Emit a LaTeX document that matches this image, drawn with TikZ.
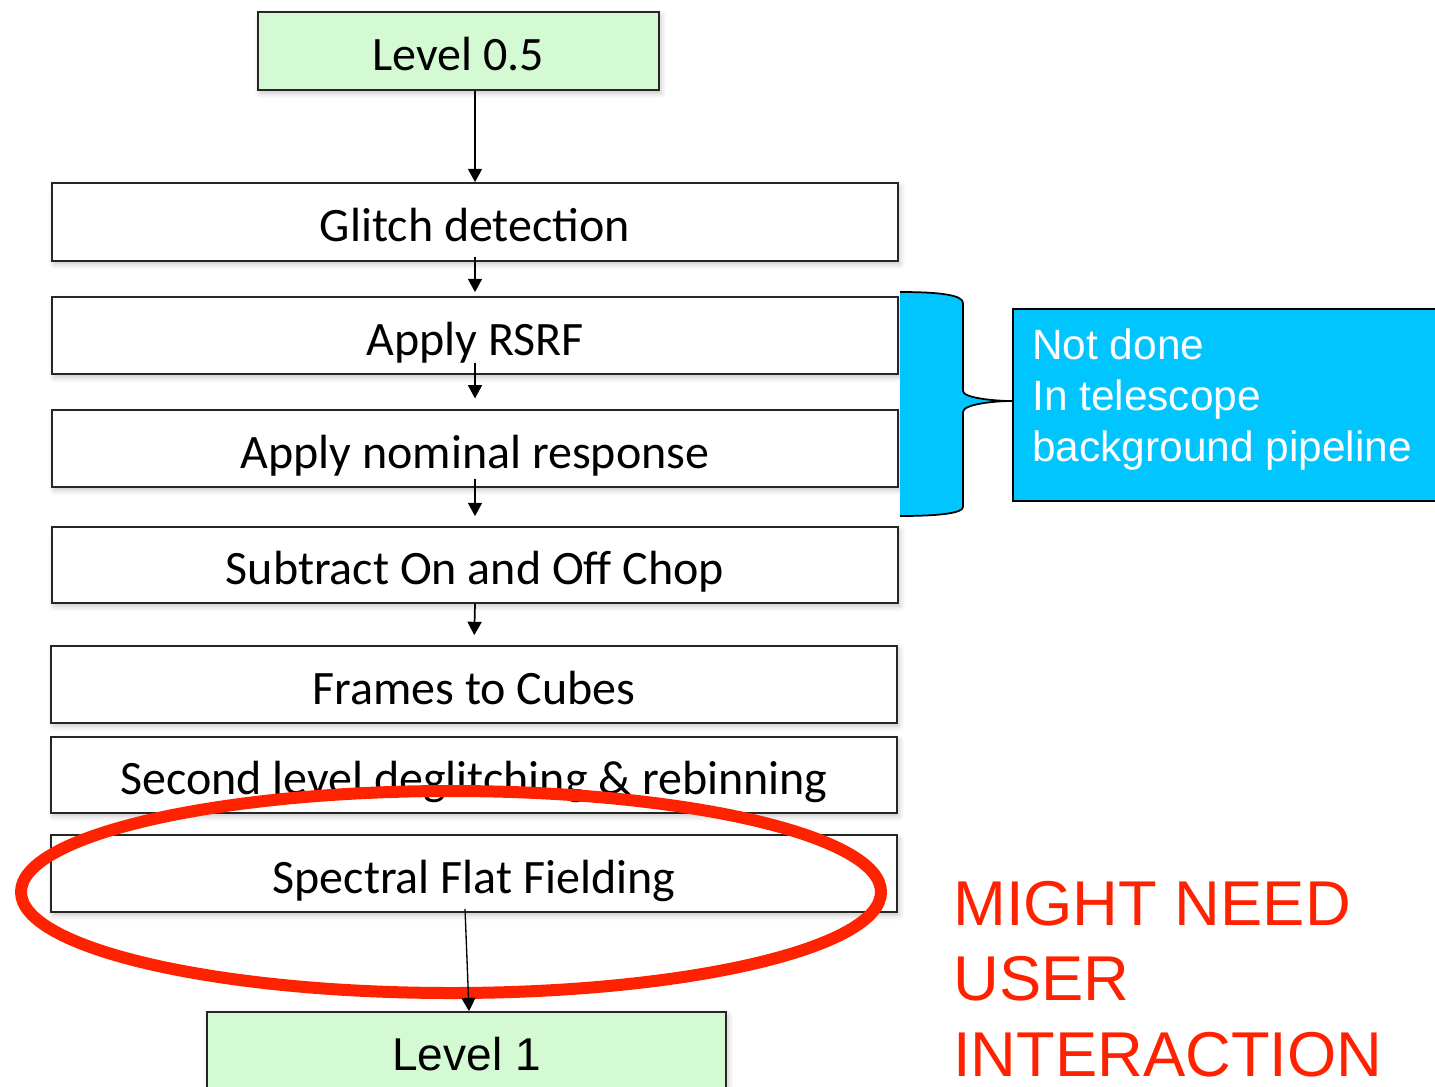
\documentclass[tikz,border=0pt]{standalone}
\usepackage{fontspec}
\setmainfont{Carlito}
\newfontfamily\arialfont{Liberation Sans}
\usetikzlibrary{arrows.meta,shadows.blur}
\definecolor{levelgreen}{RGB}{212,250,212}
\definecolor{noteblue}{RGB}{0,197,255}
\definecolor{markred}{RGB}{255,34,0}

\begin{document}
\begin{tikzpicture}[x=0.75pt,y=-0.75pt,
  stepbox/.style={draw=black!85, line width=1.3pt, fill=white, inner sep=0pt,
    minimum width=846*0.75pt, minimum height=77*0.75pt,
    font=\fontsize{36}{40}\selectfont, text height=29.5pt, text depth=0pt,
    blur shadow={shadow xshift=1.5pt, shadow yshift=-2.5pt, shadow opacity=22, shadow blur radius=4pt}},
  levelbox/.style={stepbox, fill=levelgreen},
  flow/.style={line width=1.3pt, -{Triangle[length=10pt,width=10.5pt]}},
  notetext/.style={text=white, align=left, inner sep=0pt,
    font=\arialfont\fontsize{31.8}{38.2}\selectfont},
  warntext/.style={text=markred, align=left, inner sep=0pt,
    font=\arialfont\fontsize{47.5}{56.6}\selectfont},
]
\useasboundingbox (0,0) rectangle (1435,1086);

% processing steps
\node[levelbox, minimum width=401*0.75pt, minimum height=78*0.75pt] (l05) at (458.5,51) {Level 0.5};
\node[stepbox, minimum height=78*0.75pt] (glitch) at (475,222) {Glitch detection};
\node[stepbox] (rsrf) at (475,335.5) {Apply RSRF};
\node[stepbox] (nominal) at (475,448.5) {Apply nominal response};
\node[stepbox, minimum height=76*0.75pt] (chop) at (475,565) {Subtract On and Off Chop};
\node[stepbox] (cubes) at (474,684.5) {Frames to Cubes};
\node[stepbox, minimum height=76*0.75pt] (degl) at (474,775) {Second level deglitching \& rebinning};
\node[stepbox] (flat) at (474,873.5) {Spectral Flat Fielding};
\node[levelbox, minimum width=519*0.75pt, minimum height=78*0.75pt,
      font=\arialfont\fontsize{34.5}{40}\selectfont] (l1) at (466.5,1051) {Level 1};

% flow arrows
\draw[flow] (l05.south -| glitch.north) -- (glitch.north);
\draw[flow, shorten <=-4pt, shorten >=3pt] (glitch.south) -- (rsrf.north);
\draw[flow, shorten <=-9pt, shorten >=8pt] (rsrf.south) -- (nominal.north);
\draw[flow, shorten <=-7pt, shorten >=7.5pt] (nominal.south) -- (chop.north);
\draw[flow, shorten >=7.5pt] (chop.south) -- (cubes.north);

% brace and note
\draw[line width=1.3pt, preaction={fill=noteblue, draw=none}]
  (900,292) .. controls (940,292) and (963,295) .. (963,303)
  -- (963,391) .. controls (963,398) and (995,401) .. (1012,401)
  .. controls (995,401) and (963,404) .. (963,412)
  -- (963,507) .. controls (963,513) and (940,516) .. (900,516);
\node[draw=black, line width=1.3pt, fill=noteblue, inner sep=0pt, anchor=north west,
      minimum width=430*0.75pt, minimum height=192*0.75pt] (note) at (1012,308) {};
\node[notetext, anchor=north west] (notelabel) at (1032,329) {Not done\\In telescope\\background pipeline};

% highlight of the flat-fielding step
\draw[markred, line width=9pt] (451,892) ellipse [x radius=322.5pt, y radius=75.75pt];
\draw[flow, line width=1pt] ([xshift=-6.75pt, yshift=3pt]flat.south) -- ([xshift=1.9pt]l1.north);

\node[warntext, anchor=north west] (warn) at (953,881) {MIGHT NEED\\USER\\INTERACTION};
\end{tikzpicture}
\end{document}
